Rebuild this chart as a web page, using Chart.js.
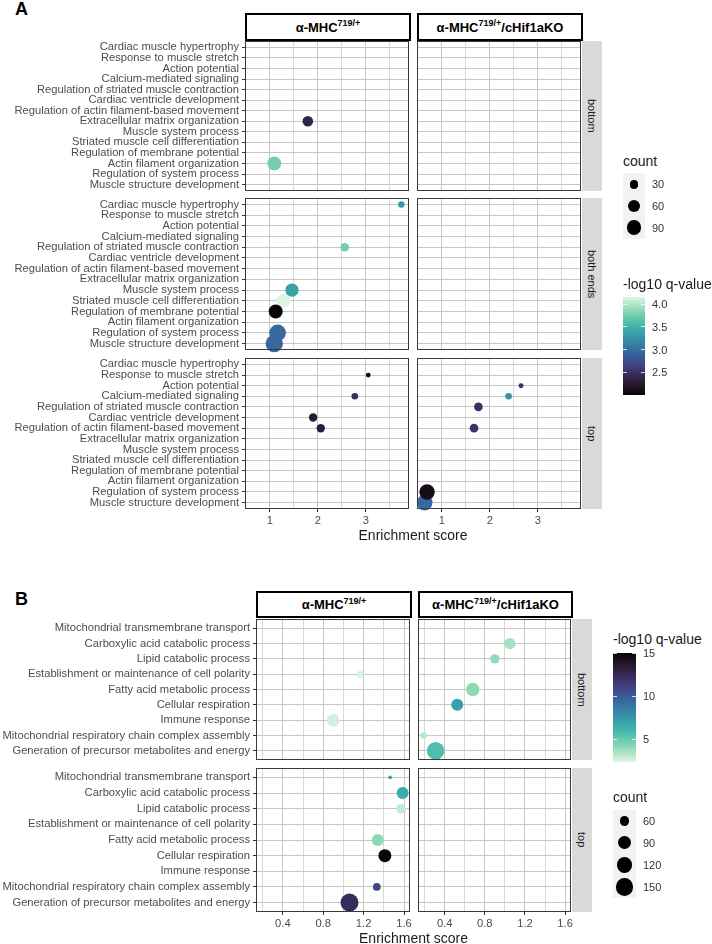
<!DOCTYPE html>
<html><head><meta charset="utf-8">
<script src="https://cdn.jsdelivr.net/npm/chart.js@4.4.1/dist/chart.umd.min.js"></script>
<style>
body{margin:0;background:#fff;width:712px;height:944px;position:relative;overflow:hidden;font-family:"Liberation Sans",Arial,sans-serif;}
.hdr{position:absolute;box-sizing:border-box;border:2px solid #000;background:#fff;font-weight:bold;font-size:13px;display:flex;align-items:center;justify-content:center;color:#000;white-space:nowrap;}
.hdr sup{font-size:9px;vertical-align:0;position:relative;top:-4px;}
.strip{position:absolute;background:#d9d9d9;color:#1a1a1a;font-size:11px;display:flex;align-items:center;justify-content:center;}
.strip span{writing-mode:vertical-rl;}
canvas{position:absolute;}
.txt{position:absolute;line-height:1;white-space:nowrap;transform:translateY(-50%);}
.panelLetter{position:absolute;font-weight:bold;font-size:18px;line-height:18px;color:#000;}
</style></head><body>
<script>
// ---------------- DATA ----------------
const catsA = ["Cardiac muscle hypertrophy","Response to muscle stretch","Action potential","Calcium-mediated signaling","Regulation of striated muscle contraction","Cardiac ventricle development","Regulation of actin filament-based movement","Extracellular matrix organization","Muscle system process","Striated muscle cell differentiation","Regulation of membrane potential","Actin filament organization","Regulation of system process","Muscle structure development"];
const catsB = ["Mitochondrial transmembrane transport","Carboxylic acid catabolic process","Lipid catabolic process","Establishment or maintenance of cell polarity","Fatty acid metabolic process","Cellular respiration","Immune response","Mitochondrial respiratory chain complex assembly","Generation of precursor metabolites and energy"];
const columnsA = ["α-MHC<sup>719/+</sup>","α-MHC<sup>719/+</sup>/cHif1aKO"];
const facetRowsA = ["bottom","both ends","top"];
const facetRowsB = ["bottom","top"];
// [term, enrichment score, count, -log10 q]
const aLeftBottom = [["Extracellular matrix organization",1.79,44,2.37],["Actin filament organization",1.09,78,3.76]];
const aRightBottom = [];
const aLeftBoth = [["Cardiac muscle hypertrophy",3.74,14,3.32],["Regulation of striated muscle contraction",2.56,28,3.76],["Striated muscle cell differentiation",1.28,78,4.16],["Muscle system process",1.46,71,3.39],["Regulation of membrane potential",1.12,78,2.0],["Muscle structure development",1.09,122,2.93],["Regulation of system process",1.16,112,2.95]];
const aRightBoth = [];
const aLeftTop = [["Response to muscle stretch",3.05,6,2.02],["Calcium-mediated signaling",2.77,15,2.48],["Cardiac ventricle development",1.90,26,2.27],["Regulation of actin filament-based movement",2.06,26,2.3]];
const aRightTop = [["Action potential",2.65,7,2.52],["Calcium-mediated signaling",2.39,15,3.25],["Regulation of striated muscle contraction",1.76,28,2.5],["Regulation of actin filament-based movement",1.67,28,2.53],["Muscle structure development",0.64,99,2.95],["Regulation of system process",0.69,95,2.1]];
const bLeftBottom = [["Establishment or maintenance of cell polarity",1.167,45,2.5],["Immune response",0.898,88,2.6]];
const bRightBottom = [["Carboxylic acid catabolic process",1.05,75,3.6],["Lipid catabolic process",0.90,60,4.0],["Fatty acid metabolic process",0.68,94,4.1],["Cellular respiration",0.525,81,7.0],["Mitochondrial respiratory chain complex assembly",0.19,43,3.2],["Generation of precursor metabolites and energy",0.31,146,5.6]];
const bLeftTop = [["Mitochondrial transmembrane transport",1.462,31,7.2],["Carboxylic acid catabolic process",1.586,81,6.5],["Lipid catabolic process",1.57,65,2.95],["Fatty acid metabolic process",1.34,81,4.1],["Cellular respiration",1.41,91,15.0],["Mitochondrial respiratory chain complex assembly",1.33,49,10.9],["Generation of precursor metabolites and energy",1.06,151,12.4]];
const bRightTop = [];
const xTicksA = [1,2,3], xTickLabelsA = ["1","2","3"], xMinorA = [1.5,2.5,3.5];
const xTicksB = [0.4,0.8,1.2,1.6], xTickLabelsB = ["0.4","0.8","1.2","1.6"], xMinorB = [0.2,0.6,1.0,1.4];
const countBreaksA = [30,60,90], countBreaksB = [60,90,120,150];
const qTicksA = [2.5,3.0,3.5,4.0], qTickLabelsA = ["2.5","3.0","3.5","4.0"];
const qTicksB = [5,10,15], qTickLabelsB = ["5","10","15"];
const qRangeA = [2.0,4.16], qRangeB = [2.33,15.05];

// ---------------- STYLE / LAYOUT ----------------
const MAKO = ['#0B0405','#2E1E3C','#413D7B','#37659E','#348FA7','#40B7AD','#8AD9B1','#DEF5E5'];
function hx(h){return [parseInt(h.slice(1,3),16),parseInt(h.slice(3,5),16),parseInt(h.slice(5,7),16)];}
function mako(t){t=Math.max(0,Math.min(1,t));const n=MAKO.length-1;const p=t*n;const i=Math.min(Math.floor(p),n-1);const f=p-i;const a=hx(MAKO[i]),b=hx(MAKO[i+1]);return 'rgb('+a.map((v,k)=>Math.round(v+(b[k]-v)*f)).join(',')+')';}
const colorA = q => mako((q-qRangeA[0])/(qRangeA[1]-qRangeA[0]));
const colorB = q => mako(1-(q-qRangeB[0])/(qRangeB[1]-qRangeB[0]));
const radiusA = c => Math.sqrt(2+0.6*c);
const radiusB = c => Math.sqrt(Math.max(2.5,0.65*c-17));

const figA = {cols:[[245,409],[417,581]], rows:[[41,191],[198,350],[358,509]], xmin:0.48, xmax:3.9, hdrTop:13, hdrH:28, stripX:582, stripW:20};
const figB = {cols:[[256,410],[418,571]], rows:[[619,760],[768,912]], xmin:0.134, xmax:1.659, hdrTop:591, hdrH:27, stripX:572, stripW:20};

Chart.defaults.font.family = '"Liberation Sans", Arial, sans-serif';

function el(tag, cls, css, html){const e=document.createElement(tag);if(cls)e.className=cls;Object.assign(e.style,css||{});if(html!==undefined)e.innerHTML=html;document.body.appendChild(e);return e;}
function txt(x,yc,s,size,color,extra){return el('div','txt',Object.assign({left:x+'px',top:yc+'px',fontSize:size+'px',color:color},extra||{}),s);}

const borderPlugin = {id:'pborder', afterDraw(chart){const a=chart.chartArea, c=chart.ctx; c.save(); c.strokeStyle='#3a3a3a'; c.lineWidth=1; c.strokeRect(a.left+0.5,a.top+0.5,a.right-a.left-1,a.bottom-a.top-1); c.restore();}};

function facetChart(fig, ci, ri, rows, cats, xTicks, xLabels, xMinor, colorFn, radiusFn){
  const [pl,pr]=fig.cols[ci], [pt,pb]=fig.rows[ri];
  const isLeft = ci===0, isBottom = ri===fig.rows.length-1;
  const left = isLeft?0:pl-10, top = pt-10;
  const xH = isBottom?32:10;
  const width = pr+10-left, height = (pb-pt)+10+xH;
  const yW = pl-left;
  const cv = el('canvas',null,{left:left+'px',top:top+'px',width:width+'px',height:height+'px'});
  cv.width=width; cv.height=height;
  const allX = xMinor.concat(xTicks).sort((a,b)=>a-b);
  const rad = c => (c.raw ? radiusFn(c.raw.count) : 3);
  new Chart(cv,{
    type:'scatter',
    data:{datasets:[{
      data: rows.map(r=>({x:r[1], y:cats.indexOf(r[0]), count:r[2], q:r[3]})),
      pointRadius: rad,
      pointHoverRadius: rad,
      pointBackgroundColor: c=>(c.raw ? colorFn(c.raw.q) : '#000'),
      pointBorderWidth:0, clip:false
    }]},
    options:{
      responsive:false, animation:false, events:[], devicePixelRatio:1,
      layout:{padding:{top:10,right:10,left:0,bottom:0}},
      plugins:{legend:{display:false}, tooltip:{enabled:false}},
      scales:{
        x:{type:'linear', min:fig.xmin, max:fig.xmax,
          afterBuildTicks:s=>{s.ticks=allX.map(v=>({value:v}));},
          afterFit:s=>{s.height=xH;},
          border:{display:false},
          grid:{color:c=>(c.tick && xTicks.includes(c.tick.value))?'#c6c6c6':'#d8d8d8', lineWidth:1, drawTicks:isBottom, tickLength:3, tickWidth:1,
                tickColor:c=>(c.tick && xTicks.includes(c.tick.value))?'#333':'rgba(0,0,0,0)'},
          ticks:{display:isBottom, autoSkip:false, maxRotation:0, padding:2, color:'#4d4d4d', font:{size:11.2},
                 callback:v=>{const i=xTicks.indexOf(v);return i>=0?xLabels[i]:'';}}
        },
        y:{type:'linear', reverse:true, min:-0.6, max:cats.length-0.4,
          afterBuildTicks:s=>{s.ticks=cats.map((_,i)=>({value:i}));},
          afterFit:s=>{s.width=yW;},
          border:{display:false},
          grid:{color:'#c6c6c6', lineWidth:1, drawTicks:isLeft, tickLength:3, tickColor:'#333'},
          ticks:{display:isLeft, autoSkip:false, padding:3, color:'#4d4d4d', font:{size:11.2}, callback:v=>cats[v]}
        }
      }
    },
    plugins:[borderPlugin]
  });
}

function figure(fig, data, cats, rowNames, xTicks, xLabels, xMinor, colorFn, radiusFn){
  fig.cols.forEach((c,ci)=>{
    el('div','hdr',{left:c[0]+'px',top:fig.hdrTop+'px',width:(c[1]-c[0]+2)+'px',height:fig.hdrH+'px'},columnsA[ci]);
  });
  fig.rows.forEach((r,ri)=>{
    el('div','strip',{left:fig.stripX+'px',top:r[0]+'px',width:fig.stripW+'px',height:(r[1]-r[0])+'px'},'<span>'+rowNames[ri]+'</span>');
    fig.cols.forEach((c,ci)=>{ try { facetChart(fig,ci,ri,data[ri][ci],cats,xTicks,xLabels,xMinor,colorFn,radiusFn); } catch(e){ console.error(e); } });
  });
  const last = fig.rows[fig.rows.length-1][1];
  const cx = (fig.cols[0][0]+fig.cols[1][1])/2;
  txt(cx, last+26, 'Enrichment score', 14, '#1a1a1a', {transform:'translate(-50%,-50%)'});
}

el('div','panelLetter',{left:'15px',top:'0px'},'A');
el('div','panelLetter',{left:'15px',top:'590px'},'B');

figure(figA, [[aLeftBottom,aRightBottom],[aLeftBoth,aRightBoth],[aLeftTop,aRightTop]], catsA, facetRowsA, xTicksA, xTickLabelsA, xMinorA, colorA, radiusA);
figure(figB, [[bLeftBottom,bRightBottom],[bLeftTop,bRightTop]], catsB, facetRowsB, xTicksB, xTickLabelsB, xMinorB, colorB, radiusB);

// ---------------- LEGENDS ----------------
function countLegend(x, titleY, boxTop, boxW, ys, breaks, rfn){
  txt(x, titleY, 'count', 14, '#1a1a1a');
  el('div',null,{position:'absolute',left:x+'px',top:boxTop+'px',width:boxW+'px',height:(ys[ys.length-1]-boxTop+ (ys[1]-ys[0])/2 + 0.5)+'px',background:'#f2f2f2'});
  breaks.forEach((b,i)=>{
    const r=rfn(b);
    el('div',null,{position:'absolute',left:(x+boxW/2-r)+'px',top:(ys[i]-r)+'px',width:2*r+'px',height:2*r+'px',borderRadius:'50%',background:'#000'});
    txt(x+boxW+7, ys[i], String(b), 11, '#333');
  });
}
function colorLegend(x, titleY, top, h, w, range, ticks, labels, darkTop){
  txt(x, titleY, '-log10 q-value', 14, '#1a1a1a');
  const stops=[];for(let i=0;i<=20;i++){stops.push(mako(i/20));}
  el('div',null,{position:'absolute',left:x+'px',top:top+'px',width:w+'px',height:h+'px',background:'linear-gradient('+(darkTop?'to bottom':'to top')+','+stops.join(',')+')'});
  ticks.forEach((v,i)=>{
    const y = top + (range[1]-v)/(range[1]-range[0])*h;
    el('div',null,{position:'absolute',left:x+'px',top:(y-0.5)+'px',width:'4px',height:'1px',background:'rgba(255,255,255,0.8)'});
    el('div',null,{position:'absolute',left:(x+w-4)+'px',top:(y-0.5)+'px',width:'4px',height:'1px',background:'rgba(255,255,255,0.8)'});
    txt(x+w+7, y, labels[i], 11, '#333');
  });
}
countLegend(623, 161, 173, 22, [184.3,206,227.7], countBreaksA, radiusA);
colorLegend(623, 284, 297, 98, 22, qRangeA, qTicksA, qTickLabelsA, false);
colorLegend(613, 639, 653, 109, 23, qRangeB, qTicksB, qTickLabelsB, true);
countLegend(613, 797, 810, 23, [821,842.7,865,886.7], countBreaksB, radiusB);
</script>
</body></html>
